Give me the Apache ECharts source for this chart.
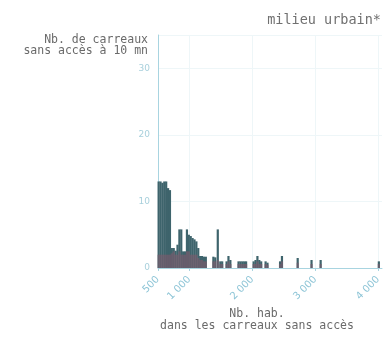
<!DOCTYPE html>
<html>
<head>
<meta charset="utf-8">
<script src="https://cdn.jsdelivr.net/npm/echarts@6/dist/echarts.min.js"></script>
<style>
  html, body { margin: 0; padding: 0; background: #fff; }
  #chart { width: 387px; height: 339px; }
</style>
</head>
<body>
<div id="chart"></div>
<script>
// bins (centre of each bin, Nb. hab.) and number of carreaux per bin
var binCentres = [510, 540, 570, 600, 630, 660, 690, 720, 750, 780, 810, 840, 870, 900, 930, 960, 990, 1020, 1050, 1080,
                  1110, 1140, 1170, 1200, 1230, 1260, 1380, 1410, 1450, 1490, 1520, 1590, 1620, 1650, 1780, 1810, 1840,
                  1870, 1900, 2020, 2050, 2080, 2110, 2140, 2210, 2240, 2440, 2470, 2720, 2940, 3085, 4010];
var countMain = [13, 13, 12.8, 13, 13, 12, 11.7, 3, 3, 2.6, 3.5, 5.8, 5.8, 2.5, 2.5, 5.8, 5, 4.8, 4.5, 4.3,
                 4, 3, 1.8, 1.8, 1.7, 1.7, 1.7, 1.6, 5.8, 1, 1, 1, 1.8, 1.2, 1, 1, 1,
                 1, 1, 1, 1.2, 1.8, 1.2, 1, 1, 0.8, 1, 1.8, 1.5, 1.2, 1.2, 1];
var countOther = [2, 2, 2, 2, 2, 2, 2, 2.2, 2.5, 2, 2, 2.5, 2, 2, 2, 2.5, 2.5, 2, 2, 2,
                  2, 1.5, 1.2, 1.2, 1, 1, 1, 1, 1.2, 0.6, 0.6, 0.6, 1, 0.6, 0.6, 0.6, 0.6,
                  0.6, 0.6, 0.6, 0.6, 1, 0.6, 0.6, 0.6, 0.5, 0.6, 1, 0.8, 0.6, 0.6, 0.6];
var xTicks = [500, 1000, 2000, 3000, 4000];
var yTicks = [0, 10, 20, 30];

var chart = echarts.init(document.getElementById('chart'));

function pairs(vals) {
    return binCentres.map(function (c, i) { return [c, vals[i]]; });
}

var option = {
    animation: false,
    textStyle: {fontFamily: 'DejaVu Sans'},
    title: {text: 'milieu urbain*', right: 1, top: 8, textStyle: {fontSize: 13.5, fontWeight: 'normal', color: '#707070', fontFamily: 'DejaVu Sans Mono'}},
    graphic: [
        {type: 'text', x: 148, y: 35, style: {text: 'Nb. de carreaux\nsans accès à 10 mn', align: 'right', font: '11.5px "DejaVu Sans Mono"', fill: '#6a6a6a', lineHeight: 11}},
        {type: 'text', x: 257, y: 308, style: {text: 'Nb. hab.\ndans les carreaux sans accès', align: 'center', font: '11.5px "DejaVu Sans Mono"', fill: '#6a6a6a', lineHeight: 12}}
    ],
    grid: {left: 158, right: 5, top: 35, bottom: 71, containLabel: false},
    xAxis: {
        type: 'value', min: 500, max: 4060,
        axisLine: {show: true, lineStyle: {color: '#a8d4e0'}},
        axisTick: {show: true, customValues: xTicks, length: 3, lineStyle: {color: '#a8d4e0'}},
        axisLabel: {customValues: xTicks, rotate: 45, margin: 10, color: '#8cc4d6', fontSize: 10,
            formatter: function (v) { return v >= 1000 ? Math.floor(v / 1000) + ' ' + String(v % 1000).padStart(3, '0') : String(v); }},
        splitLine: {show: true, lineStyle: {color: '#eef6f8'}}
    },
    yAxis: {
        type: 'value', min: 0, max: 35, interval: 10,
        axisLine: {show: true, lineStyle: {color: '#a8d4e0'}},
        axisTick: {show: false},
        axisLabel: {color: '#a8d0dc', fontSize: 9, formatter: function (v) { return yTicks.indexOf(v) >= 0 ? v : ''; }},
        splitLine: {show: true, lineStyle: {color: '#eef6f8'}}
    },
    series: [
        {type: 'bar', data: pairs(countMain), barWidth: 2.2, itemStyle: {color: '#3e646c'}},
        {type: 'bar', data: pairs(countOther), barWidth: 2.2, barGap: '-100%', itemStyle: {color: '#7d5a6c', opacity: 0.6}}
    ]
};

chart.setOption(option);
</script>
</body>
</html>
